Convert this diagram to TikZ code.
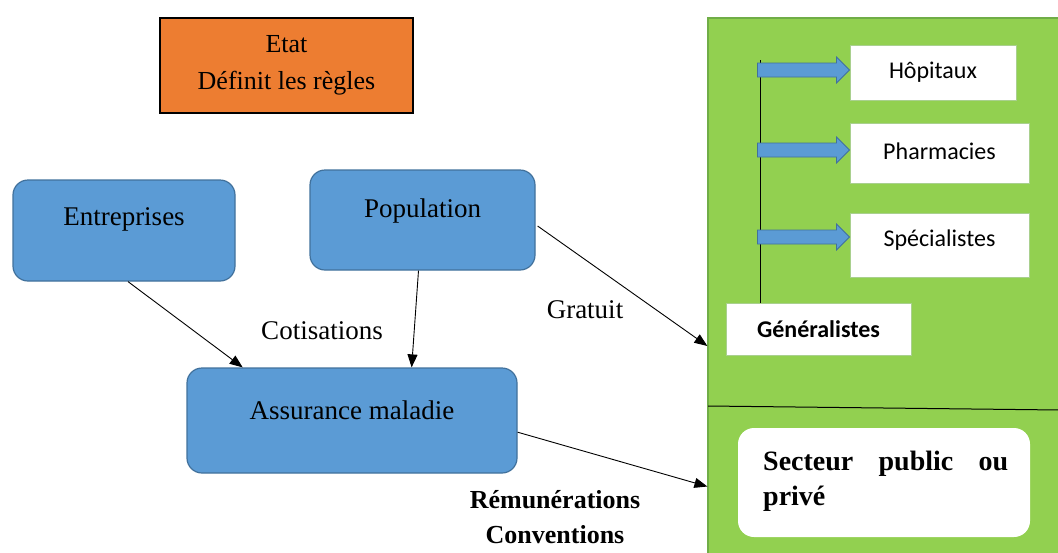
\documentclass[tikz,border=0pt]{standalone}
\usepackage{fontspec}
\setmainfont{Liberation Serif}
\newfontfamily\calfont{Carlito}
\usetikzlibrary{arrows.meta,calc}
\definecolor{etatorange}{HTML}{ED7D31}
\definecolor{boxblue}{HTML}{5B9BD5}
\definecolor{boxblueedge}{HTML}{41719C}
\definecolor{panelgreen}{HTML}{92D050}
\definecolor{paneledge}{HTML}{70AD47}
\definecolor{cardedge}{HTML}{A9D08E}

\begin{document}
\begin{tikzpicture}[x=1pt,y=-1pt,
  bluebox/.style={draw=boxblueedge,line width=1.2pt,fill=boxblue,rounded corners=15pt,inner sep=0pt},
  card/.style={draw=cardedge,line width=1pt,fill=white,inner sep=0pt},
  serif/.style={font=\fontsize{27}{30}\selectfont},
  calib/.style={font=\calfont\fontsize{24}{28}\selectfont},
  conn/.style={line width=0.9pt,-{Triangle[length=13pt,width=10pt]}},
  blockarrow/.style={draw=boxblueedge,fill=boxblue,line width=0.8pt},
]
\useasboundingbox (0,0) rectangle (1058,552);

% State box
\node[draw=black,line width=2pt,fill=etatorange,minimum width=253pt,minimum height=95pt,
      align=center,font=\fontsize{26}{37}\selectfont] (etat) at (286.5,65.5)
      {Etat\\Définit les règles};

% Actors
\node[bluebox,minimum width=222pt,minimum height=101pt] (entr) at (124,230.5) {};
\node[serif] (entrtxt) at ([yshift=11pt]entr.center) {Entreprises};
\node[bluebox,minimum width=225pt,minimum height=100pt] (pop) at (422.5,220) {};
\node[serif] (poptxt) at ([yshift=9pt]pop.center) {Population};
\node[bluebox,minimum width=330pt,minimum height=105pt] (assur) at (352,420.5) {};
\node[serif] (assurtxt) at ([yshift=10pt]assur.center) {Assurance maladie};

% Care providers panel
\begin{scope}
  \clip (0,0) rectangle (1058,552);
  \node[draw=paneledge,line width=1.2pt,fill=panelgreen,minimum width=367pt,minimum height=552pt,inner sep=0pt]
        (panel) at (891.5,294) {};
  \coordinate (divL) at (708,406);
  \coordinate (divR) at (1060,410);
  \draw[line width=1pt] (divL) -- (divR);
\end{scope}

\node[card,calib,minimum width=166pt,minimum height=55pt] (hop) at (933,72.5) {Hôpitaux};
\node[card,calib,minimum width=179pt,minimum height=60pt] (pha) at (939.5,153) {\raisebox{3pt}{Pharmacies}};
\node[card,minimum width=179pt,minimum height=64pt] (spe) at (939.5,245) {};
\node[calib] (spetxt) at ([yshift=5pt]spe.center) {Spécialistes};
\node[card,minimum width=185pt,minimum height=52pt,font=\calfont\bfseries\fontsize{24}{28}\selectfont]
      (gen) at (818.5,329) {Généralistes};

% Branch line and block arrows
\coordinate (vtop) at (760,60);
\draw[line width=1pt] (vtop) -- (vtop |- gen.north);
\foreach \n/\yy in {hop/70,pha/150,spe/237}{
  \coordinate (tip) at (\n.west |- 0,\yy);
  \draw[blockarrow] (tip) -- ++(-13,-13) -- ++(0,6) -- ++(-79,0) -- ++(0,14)
        -- ++(79,0) -- ++(0,6) -- cycle;
}

% Sector card
\node[fill=white,rounded corners=16pt,minimum width=292pt,minimum height=109pt,inner sep=0pt]
      (sect) at (884,482.5) {};
\node[anchor=base west,inner sep=0pt,font=\bfseries\fontsize{28}{35}\selectfont]
      (secttxt) at (763,470)
      {\parbox[t]{245pt}{\hyphenpenalty=10000\exhyphenpenalty=10000 Secteur public ou privé}};

% Flows
\draw[conn] ($(entr.south)+(4,0)$) -- ($(assur.north west)!0.17!(assur.north east)$);
\draw[conn] ($(pop.south)+(-4,0)$) -- ($(assur.north west)!0.68!(assur.north east)$);
\draw[conn] ($(pop.east)+(2,6)$) -- ($(panel.north west)!0.594!(panel.south west)$);
\draw[conn] ($(assur.north east)!0.61!(assur.south east)$) -- ($(panel.north west)!0.848!(panel.south west)$);

% Flow labels
\node[serif] (cotis) at (322,331) {Cotisations};
\node[serif] (grat) at (585,310) {Gratuit};
\node[align=center,font=\bfseries\fontsize{26}{35}\selectfont] (remu) at (555,517)
      {Rémunérations\\Conventions};
\end{tikzpicture}
\end{document}
